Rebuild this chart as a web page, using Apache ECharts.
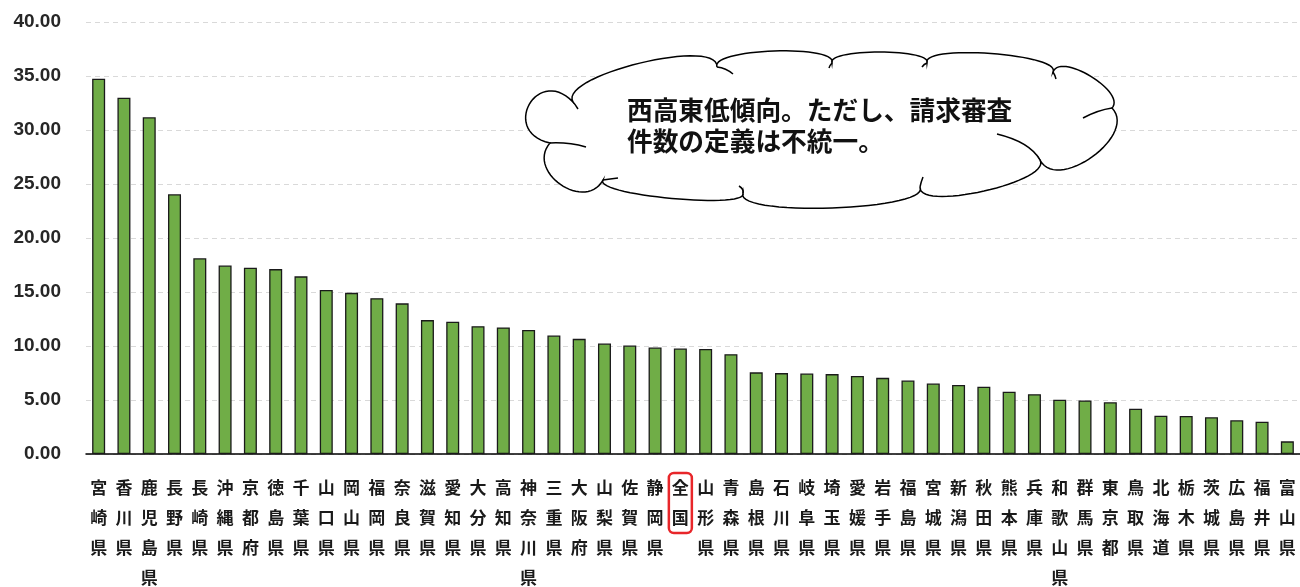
<!DOCTYPE html>
<html>
<head>
<meta charset="utf-8">
<script src="https://cdn.jsdelivr.net/npm/echarts@6/dist/echarts.min.js"></script>
<style>
html,body{margin:0;padding:0;background:#fff;}
#chart{width:1300px;height:587px;}
</style>
</head>
<body>
<div id="chart"></div>
<script>
const categories = ['宮崎県','香川県','鹿児島県','長野県','長崎県','沖縄県','京都府','徳島県','千葉県','山口県','岡山県','福岡県','奈良県','滋賀県','愛知県','大分県','高知県','神奈川県','三重県','大阪府','山梨県','佐賀県','静岡県','全国','山形県','青森県','島根県','石川県','岐阜県','埼玉県','愛媛県','岩手県','福島県','宮城県','新潟県','秋田県','熊本県','兵庫県','和歌山県','群馬県','東京都','鳥取県','北海道','栃木県','茨城県','広島県','福井県','富山県'];
const values = [34.75,32.98,31.18,24.05,18.12,17.45,17.25,17.12,16.45,15.18,14.92,14.43,13.95,12.40,12.24,11.84,11.72,11.49,10.97,10.66,10.23,10.04,9.86,9.77,9.73,9.24,7.56,7.49,7.45,7.40,7.23,7.05,6.80,6.53,6.40,6.22,5.76,5.54,5.03,4.96,4.79,4.19,3.55,3.52,3.40,3.12,2.98,1.17];
const yTicks = {min: 0, max: 40, interval: 5};
const highlightCategory = '全国';
const noteText = '西高東低傾向。ただし、請求審査\n件数の定義は不統一。';

// cloud callout outline (annotation shape, pixel coordinates)
const cloudPts = [[573,102],[717,67],[832,63],[927,63],[1053,72],[1112,108],[1040,160],[920,187],[743,193],[603,180],[550,143]];
const cloudSag = [22,14,11,14,16,28,18,18,12,28,37];
const cloudInner = [
  [[550,143],[568,142],[586,147]],
  [[573,102],[575,104],[578,109]],
  [[717,67],[726,68],[733,74]],
  [[832,63],[830,65],[829,68]],
  [[927,63],[924,64],[922,67]],
  [[1053,72],[1055,75],[1056,79]],
  [[1112,108],[1098,110],[1083,118]],
  [[1040,160],[1030,142],[997,134]],
  [[920,187],[921,182],[923,177]],
  [[743,193],[744,189],[739,186]],
  [[603,180],[610,179],[618,178]]
];
function buildCloud(){
  const poly = [];
  for (let i = 0; i < cloudPts.length; i++) {
    const A = cloudPts[i], B = cloudPts[(i+1) % cloudPts.length];
    const dx = B[0]-A[0], dy = B[1]-A[1];
    const len = Math.hypot(dx, dy);
    const tx = dx/len, ty = dy/len;
    const nx = ty, ny = -tx;
    const h = cloudSag[i]*4/3;
    const ext = Math.max(0, cloudSag[i] - len*0.5)*0.9 + len*0.06;
    const c1 = [A[0]+nx*h - tx*ext, A[1]+ny*h - ty*ext];
    const c2 = [B[0]+nx*h + tx*ext, B[1]+ny*h + ty*ext];
    for (let k = 0; k < 30; k++) {
      const t = k/30, u = 1-t;
      poly.push([
        u*u*u*A[0] + 3*u*u*t*c1[0] + 3*u*t*t*c2[0] + t*t*t*B[0],
        u*u*u*A[1] + 3*u*u*t*c1[1] + 3*u*t*t*c2[1] + t*t*t*B[1]
      ]);
    }
  }
  const els = [{type: 'polygon', z: 100, shape: {points: poly}, style: {fill: '#ffffff', stroke: '#000', lineWidth: 1.5}}];
  cloudInner.forEach(a => els.push({
    type: 'bezierCurve', z: 101,
    shape: {x1: a[0][0], y1: a[0][1], cpx1: a[1][0], cpy1: a[1][1], x2: a[2][0], y2: a[2][1]},
    style: {fill: null, stroke: '#000', lineWidth: 1.5}
  }));
  return els;
}

const chart = echarts.init(document.getElementById('chart'), null, {renderer: 'canvas'});
const xData = categories.map(c => c === highlightCategory
  ? {value: c, textStyle: {borderColor: '#e8262a', borderWidth: 2.5, borderRadius: 5, padding: [0, 3]}}
  : c);

chart.setOption({
  animation: false,
  backgroundColor: '#ffffff',
  grid: {left: 86, right: 0, top: 22, bottom: 133, containLabel: false, outerBoundsMode: 'none'},
  xAxis: {
    type: 'category',
    data: xData,
    axisLine: {show: true, lineStyle: {color: '#000', width: 1.5}},
    axisTick: {show: false},
    axisLabel: {
      interval: 0,
      margin: 19,
      fontSize: 17,
      fontWeight: 'bold',
      lineHeight: 30,
      color: '#1a1a1a',
      fontFamily: '"Noto Sans CJK JP", sans-serif',
      formatter: v => v.split('').join('\n')
    }
  },
  yAxis: {
    type: 'value',
    min: yTicks.min, max: yTicks.max, interval: yTicks.interval,
    axisLine: {show: false},
    axisTick: {show: false},
    splitLine: {lineStyle: {color: '#d9d9d9', type: [5, 4], width: 1}},
    axisLabel: {
      margin: 25,
      fontSize: 19,
      fontWeight: 'bold',
      color: '#262626',
      fontFamily: '"Liberation Sans", Arial, sans-serif',
      formatter: v => v.toFixed(2)
    }
  },
  series: [{
    type: 'bar',
    data: values,
    barWidth: 13,
    itemStyle: {color: '#70ad47', borderColor: '#1a1a1a', borderWidth: 1.3}
  }],
  graphic: buildCloud().concat([
    {type: 'text', z: 102, left: 627, top: 95, style: {text: noteText, fontSize: 25.7, fontWeight: 'bold', lineHeight: 31, fill: '#111', fontFamily: '"Noto Sans CJK JP", sans-serif'}}
  ])
});
</script>
</body>
</html>
